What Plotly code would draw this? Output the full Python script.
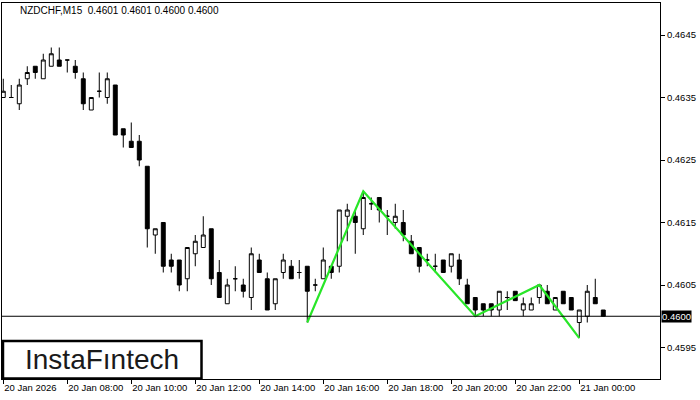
"""NZDCHF M15 candlestick chart with pattern lines (Plotly)"""

import plotly.graph_objects as go

# bar index 0..75 (M15 bars, first bar at 20 Jan 06:00)
bars = list(range(76))

opens = [0.4635, 0.4635, 0.4634, 0.4638, 0.4640, 0.4638, 0.4640, 0.4641, 0.4641, 0.4640,
         0.4638, 0.4633, 0.4636, 0.4635, 0.4637, 0.4630, 0.4628, 0.4628, 0.4624, 0.4613,
         0.4615, 0.4609, 0.4609, 0.4606, 0.4610, 0.4611, 0.4614, 0.4607, 0.4602, 0.4606,
         0.4605, 0.4603, 0.4609, 0.4606, 0.4602, 0.4607, 0.4608, 0.4607, 0.4608, 0.4605,
         0.4606, 0.4608, 0.4608, 0.4616, 0.4616, 0.4614, 0.4618, 0.4619, 0.4616, 0.4615,
         0.4615, 0.4612, 0.4611, 0.4609, 0.4608, 0.4609, 0.4608, 0.4609, 0.4605, 0.4603,
         0.4602, 0.4602, 0.4601, 0.4603, 0.4604, 0.4601, 0.4601, 0.4603, 0.4604, 0.4601,
         0.4604, 0.4603, 0.4599, 0.4600, 0.4603, 0.4601]
highs = [0.4638, 0.4637, 0.4638, 0.4640, 0.4640, 0.4642, 0.4643, 0.4643, 0.4641, 0.4641,
         0.4639, 0.4635, 0.4639, 0.4639, 0.4637, 0.4630, 0.4631, 0.4629, 0.4624, 0.4614,
         0.4615, 0.4610, 0.4609, 0.4611, 0.4613, 0.4616, 0.4614, 0.4609, 0.4606, 0.4608,
         0.4606, 0.4611, 0.4610, 0.4607, 0.4606, 0.4610, 0.4609, 0.4609, 0.4608, 0.4606,
         0.4611, 0.4608, 0.4617, 0.4618, 0.4617, 0.4620, 0.4619, 0.4619, 0.4617, 0.4618,
         0.4617, 0.4613, 0.4611, 0.4610, 0.4610, 0.4609, 0.4610, 0.4610, 0.4606, 0.4603,
         0.4602, 0.4602, 0.4604, 0.4604, 0.4604, 0.4603, 0.4603, 0.4605, 0.4605, 0.4603,
         0.4604, 0.4603, 0.4601, 0.4605, 0.4606, 0.4601]
lows = [0.4635, 0.4635, 0.4633, 0.4637, 0.4638, 0.4638, 0.4640, 0.4640, 0.4639, 0.4638,
        0.4633, 0.4633, 0.4635, 0.4634, 0.4629, 0.4627, 0.4627, 0.4624, 0.4611, 0.4610,
        0.4607, 0.4607, 0.4604, 0.4604, 0.4608, 0.4611, 0.4605, 0.4603, 0.4602, 0.4604,
        0.4603, 0.4601, 0.4607, 0.4601, 0.4601, 0.4606, 0.4606, 0.4606, 0.4599, 0.4604,
        0.4606, 0.4606, 0.4607, 0.4612, 0.4610, 0.4613, 0.4617, 0.4615, 0.4613, 0.4614,
        0.4612, 0.4610, 0.4607, 0.4608, 0.4607, 0.4607, 0.4607, 0.4605, 0.4602, 0.4600,
        0.4600, 0.4600, 0.4600, 0.4601, 0.46025, 0.4600, 0.4601, 0.4602, 0.4602, 0.4601,
        0.4602, 0.4601, 0.45965, 0.4599, 0.4602, 0.4600]
closes = [0.4636, 0.4635, 0.4637, 0.4639, 0.4639, 0.4641, 0.4642, 0.4640, 0.4641, 0.4639,
          0.4634, 0.4635, 0.4636, 0.4638, 0.4629, 0.4629, 0.4627, 0.4625, 0.4614, 0.4614,
          0.4608, 0.4608, 0.4605, 0.4611, 0.4612, 0.4613, 0.4606, 0.4603, 0.4605, 0.4606,
          0.4604, 0.4610, 0.4607, 0.4601, 0.4606, 0.4609, 0.4606, 0.4607, 0.4604, 0.4605,
          0.4609, 0.4607, 0.4617, 0.4617, 0.4615, 0.4619, 0.4618, 0.4617, 0.4616, 0.4616,
          0.4613, 0.4610, 0.4608, 0.4609, 0.4608, 0.4607, 0.4610, 0.4606, 0.4602, 0.4601,
          0.4601, 0.4601, 0.4604, 0.4603, 0.46025, 0.4602, 0.4602, 0.4605, 0.4602, 0.4603,
          0.4602, 0.4601, 0.4601, 0.4604, 0.4602, 0.4600]

# time axis labels every 8 bars
tick_bars = [0, 8, 16, 24, 32, 40, 48, 56, 64, 72]
tick_labels = ['20 Jan 2026', '20 Jan 08:00', '20 Jan 10:00', '20 Jan 12:00', '20 Jan 14:00',
               '20 Jan 16:00', '20 Jan 18:00', '20 Jan 20:00', '20 Jan 22:00', '21 Jan 00:00']

price_ticks = [0.4595, 0.4605, 0.4615, 0.4625, 0.4635, 0.4645]

# pattern (green zigzag)
pattern_bars = [38, 45, 59, 67, 72]
pattern_prices = [0.4599, 0.4620, 0.4600, 0.4605, 0.45965]

last_price = 0.4600
header = 'NZDCHF,M15  0.4601 0.4601 0.4600 0.4600'

FONT = 'Liberation Sans, Arial, sans-serif'
GREEN = 'rgb(40,230,40)'

fig = go.Figure()

fig.add_trace(go.Candlestick(
    x=bars, open=opens, high=highs, low=lows, close=closes,
    increasing=dict(line=dict(color='black', width=1), fillcolor='white'),
    decreasing=dict(line=dict(color='black', width=1), fillcolor='black'),
    whiskerwidth=0,
    showlegend=False,
    hoverinfo='skip',
))

fig.add_trace(go.Scatter(
    x=pattern_bars, y=pattern_prices, mode='lines',
    line=dict(color=GREEN, width=2.2),
    showlegend=False, hoverinfo='skip',
))

# bid line
fig.add_hline(y=last_price, line=dict(color='black', width=1))

# price box on the right axis
fig.add_annotation(
    x=1, xref='paper', xanchor='left', xshift=1,
    y=last_price, yref='y', yanchor='middle',
    text=f'{last_price:.4f}', showarrow=False,
    font=dict(family=FONT, size=9.5, color='white'),
    bgcolor='black', borderpad=0,
)

# header text
fig.add_annotation(
    x=0, xref='paper', xanchor='left', xshift=16,
    y=1, yref='paper', yanchor='middle', yshift=-7,
    text=header, showarrow=False,
    font=dict(family=FONT, size=10, color='black'),
)

# logo box
fig.add_shape(
    type='rect', xref='paper', yref='paper',
    x0=0.0015, x1=0.3032, y0=0.0013, y1=0.101,
    line=dict(color='black', width=2.5), fillcolor='white', layer='above',
)
fig.add_annotation(
    x=0.152, xref='paper', xanchor='center',
    y=0.052, yref='paper', yanchor='middle',
    text='InstaFıntech', showarrow=False,
    font=dict(family=FONT, size=28, color='#1a1a1a'),
)

fig.update_layout(
    width=700, height=400,
    margin=dict(l=2, r=40, t=3, b=21),
    paper_bgcolor='white', plot_bgcolor='white',
    font=dict(family=FONT, size=9.5, color='black'),
    xaxis=dict(
        range=[-0.16, 82.09],
        rangeslider=dict(visible=False),
        tickmode='array', tickvals=tick_bars, ticktext=tick_labels,
        ticklabelposition='outside right',
        ticks='outside', ticklen=4, tickcolor='black',
        showgrid=False, zeroline=False,
        showline=True, linecolor='black', linewidth=1, mirror=True,
    ),
    yaxis=dict(
        side='right',
        range=[0.458996, 0.465012],
        tickmode='array', tickvals=price_ticks,
        ticktext=[f'{p:.4f}' for p in price_ticks],
        ticks='outside', ticklen=4, tickcolor='black',
        showgrid=False, zeroline=False,
        showline=True, linecolor='black', linewidth=1, mirror=True,
    ),
)

# page body has a default margin; drop it so the figure sits at the window corner
fig.write_html("out.html", config={'displayModeBar': False},
               post_script="document.body.style.margin='0';")
